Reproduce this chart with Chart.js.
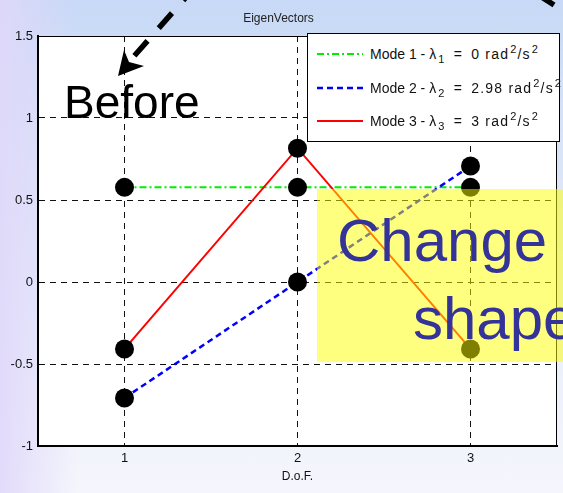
<!DOCTYPE html>
<html>
<head>
<meta charset="utf-8">
<script src="https://cdn.jsdelivr.net/npm/chart.js@4/dist/chart.umd.min.js"></script>
<style>
  html, body { margin: 0; padding: 0; }
  body {
    width: 563px; height: 493px; overflow: hidden; position: relative;
    font-family: "Liberation Sans", Arial, sans-serif;
    background:
      linear-gradient(to right, rgba(224,216,250,0.9) 0%, rgba(224,216,250,0) 14%),
      linear-gradient(to bottom, #c7d9f6 0%, #d9e4f8 30%, #eaeffb 70%, #f5f6fc 100%);
  }
  #wrap { position: absolute; left: 0; top: 0; width: 563px; height: 493px; }
  #legend {
    position: absolute; left: 307px; top: 33px; width: 251px; height: 107px;
    background: #fff; border: 1px solid #000;
  }
  .row { position: absolute; left: 0; height: 20px; width: 251px; }
  .row svg { position: absolute; left: 9px; top: 0; }
  .row span.txt {
    position: absolute; left: 62px; top: 1px; font-size: 14px; color: #111;
    white-space: nowrap; line-height: 18px;
  }
  .tex { letter-spacing: 1.2px; }
  .sub { font-size: 11px; position: relative; top: 4px; margin-left: 1px; }
  .sup { font-size: 11px; position: relative; top: -6px; margin-left: 1px; }
  .eq { margin: 0 3px; }
  #note {
    position: absolute; left: 317px; top: 189px; width: 250px; height: 173px;
    background: rgba(255,255,0,0.5);
  }
  .big { position: absolute; line-height: 1; white-space: nowrap; }
  #before { left: 64px; top: 79px; font-size: 46px; color: #000; }
  #change { left: 337px; top: 211px; font-size: 60px; color: #333399; }
  #shape { left: 413px; top: 289px; font-size: 60px; color: #333399; }
  #arrows { position: absolute; left: 0; top: 0; }
</style>
</head>
<body>
<div id="wrap"><canvas id="c" width="563" height="493"></canvas></div>
<div id="legend"></div>
<div id="note"></div>
<div class="big" id="before">Before</div>
<div class="big" id="change">Change</div>
<div class="big" id="shape">shape</div>
<svg id="arrows" width="563" height="493">
  <line x1="196.4" y1="-14.7" x2="134.4" y2="55.8" stroke="#000" stroke-width="5.5" stroke-dasharray="20 17"/>
  <polygon points="118,76 124,50 129,62 144,66" fill="#000"/>
  <line x1="540" y1="-4" x2="554" y2="5" stroke="#000" stroke-width="5.5"/>
</svg>
<script>
// Degrees of freedom and the three mode shapes (normalised eigenvectors)
const dof = [1, 2, 3];
const mode1 = [0.577, 0.577, 0.577];
const mode2 = [-0.707, 0, 0.707];
const mode3 = [-0.408, 0.816, -0.408];
const xTicks = [1, 2, 3];
const yTicks = [-1, -0.5, 0, 0.5, 1, 1.5];
const modeNames = ['Mode 1', 'Mode 2', 'Mode 3'];
const eigenValues = ['0', '2.98', '3'];

const lineStyles = [
  { color: '#00ee00', dash: [7, 3, 2, 3], width: 2 },
  { color: '#0000ff', dash: [6, 4], width: 2.5 },
  { color: '#ff0000', dash: [], width: 2 }
];

const modes = [mode1, mode2, mode3];

// Legend with subscripts / superscripts
const legend = document.getElementById('legend');
const rowTops = [10, 44, 77];
modes.forEach((m, i) => {
  const s = lineStyles[i];
  const row = document.createElement('div');
  row.className = 'row';
  row.style.top = rowTops[i] + 'px';
  row.innerHTML =
    `<svg width="48" height="20"><line x1="0" y1="10" x2="46" y2="10" stroke="${s.color}" stroke-width="${s.width}" stroke-dasharray="${s.dash.join(' ')}"/></svg>` +
    `<span class="txt">${modeNames[i]} - <span class="tex">λ<span class="sub">${i + 1}</span> <span class="eq">=</span> ${eigenValues[i]} rad<span class="sup">2</span>/s<span class="sup">2</span></span></span>`;
  legend.appendChild(row);
});

// White plot area, plus the thin top / right frame
const frame = {
  id: 'frame',
  beforeDraw(chart) {
    const { ctx, chartArea: a } = chart;
    ctx.save();
    ctx.fillStyle = '#fff';
    ctx.fillRect(a.left, a.top, a.right - a.left, a.bottom - a.top);
    ctx.restore();
  },
  afterDatasetsDraw(chart) {
    const { ctx, chartArea: a } = chart;
    ctx.save();
    ctx.strokeStyle = '#000';
    ctx.lineWidth = 1;
    ctx.beginPath();
    ctx.moveTo(a.left, a.top + 0.5);
    ctx.lineTo(a.right - 0.5, a.top + 0.5);
    ctx.lineTo(a.right - 0.5, a.bottom);
    ctx.stroke();
    ctx.restore();
  }
};

const gridColor = (ctx, edges) =>
  edges.includes(ctx.tick && ctx.tick.value) ? 'rgba(0,0,0,0)' : '#111';

new Chart(document.getElementById('c'), {
  type: 'scatter',
  data: {
    datasets: modes.map((m, i) => ({
      label: modeNames[i],
      data: dof.map((x, k) => ({ x, y: m[k] })),
      showLine: true,
      borderColor: lineStyles[i].color,
      borderWidth: lineStyles[i].width,
      borderDash: lineStyles[i].dash,
      pointRadius: 9.5,
      pointHoverRadius: 9.5,
      pointBackgroundColor: '#000',
      pointBorderWidth: 0,
      order: 3 - i
    }))
  },
  options: {
    responsive: false,
    animation: false,
    events: [],
    layout: { autoPadding: false, padding: { left: 0, right: 6, top: 0, bottom: 0 } },
    plugins: {
      legend: { display: false },
      tooltip: { enabled: false },
      title: {
        display: true,
        text: 'EigenVectors',
        color: '#222',
        font: { family: 'Liberation Sans', size: 12, weight: 'normal' },
        padding: { top: 11, bottom: 10.6 }
      }
    },
    scales: {
      x: {
        type: 'linear',
        min: 0.5, max: 3.5,
        afterBuildTicks: s => { s.ticks = xTicks.map(v => ({ value: v })); },
        afterFit: s => { s.height = 47; s.paddingLeft = 0; s.paddingRight = 0; },
        ticks: { color: '#111', font: { family: 'Liberation Sans', size: 13 }, padding: 5, callback: v => String(v) },
        grid: { drawTicks: false, color: c => gridColor(c, [0.5, 3.5]), lineWidth: 1 },
        border: { display: true, color: '#000', width: 2, dash: [6, 5] },
        title: {
          display: true, text: 'D.o.F.', color: '#111',
          font: { family: 'Liberation Sans', size: 12 },
          padding: { top: 0, bottom: 8.8 }
        }
      },
      y: {
        type: 'linear',
        min: -1, max: 1.5,
        afterBuildTicks: s => { s.ticks = yTicks.map(v => ({ value: v })); },
        afterFit: s => { s.width = 38; s.paddingTop = 0; s.paddingBottom = 0; },
        ticks: { color: '#111', font: { family: 'Liberation Sans', size: 13 }, padding: 5, callback: v => String(v) },
        grid: { drawTicks: false, color: c => gridColor(c, [-1, 1.5]), lineWidth: 1 },
        border: { display: true, color: '#000', width: 2, dash: [6, 5] }
      }
    }
  },
  plugins: [frame]
});
</script>
</body>
</html>
